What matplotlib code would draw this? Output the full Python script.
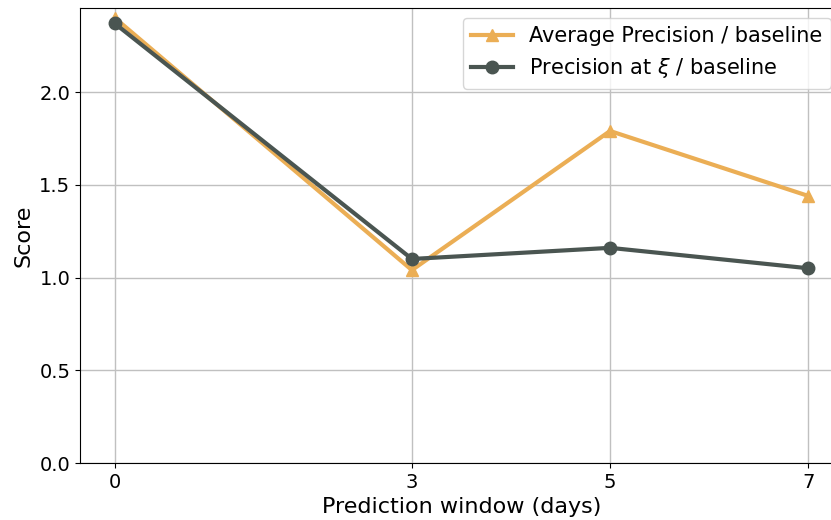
import matplotlib
matplotlib.use("Agg")
import matplotlib.pyplot as plt

# prediction windows and scores (relative to baseline)
windows = [0, 3, 5, 7]
avg_precision = [2.40, 1.04, 1.79, 1.44]
precision_xi = [2.37, 1.10, 1.16, 1.05]

ap_color = '#ebae55'
px_color = '#4a5551'

fig = plt.figure(figsize=(8.31, 5.20), dpi=100)
ax = fig.add_axes([0.0963, 0.1096, 0.918, 0.875])

ax.plot(windows, avg_precision, color=ap_color, marker='^', lw=3, ms=9,
        label='Average Precision / baseline')
ax.plot(windows, precision_xi, color=px_color, marker='o', lw=3, ms=9,
        label=r'Precision at $\xi$ / baseline')

ax.set_xticks(windows)
ax.set_ylim(0, 2.453)
ax.set_xlim(-0.35, 7.35)
ax.grid(True, color='#c0c0c0', lw=1)
ax.set_axisbelow(True)
ax.tick_params(labelsize=14)
ax.set_xlabel('Prediction window (days)', fontsize=16)
ax.set_ylabel('Score', fontsize=16)
ax.legend(loc='upper right', fontsize=15, bbox_to_anchor=(0.998, 1.002))

fig.savefig('out.png', dpi=100)
